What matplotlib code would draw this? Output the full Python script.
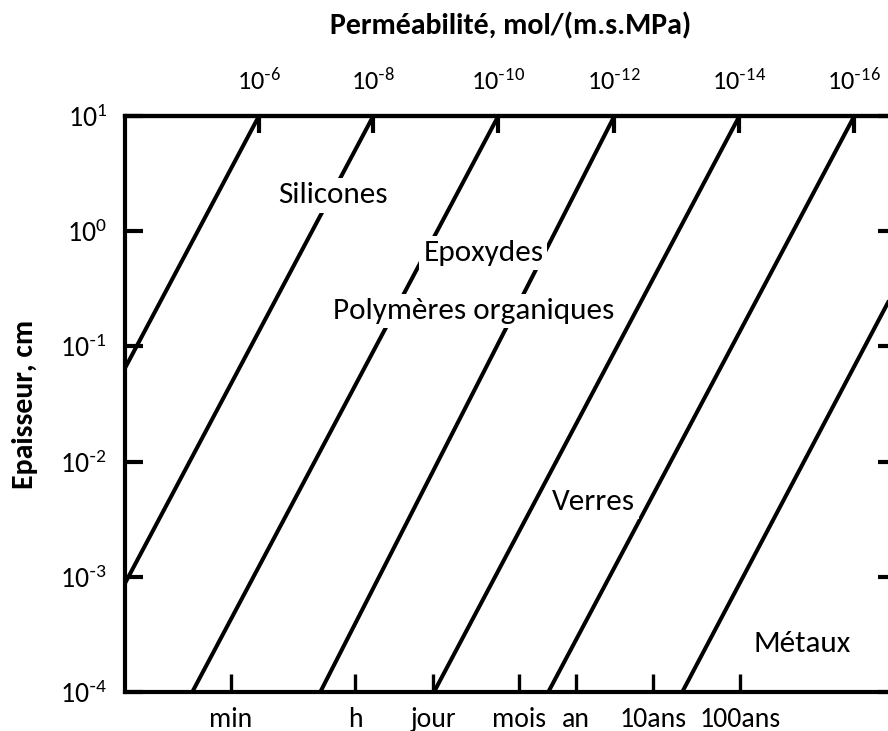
import matplotlib
matplotlib.use("Agg")
import matplotlib.pyplot as plt
import numpy as np

# ---------------- data ----------------
# Permeability exponents of the iso-permeability lines (mol/(m.s.MPa))
PERM_EXP = [-6, -8, -10, -12, -14, -16, -18]
# log10(time / s) where each line crosses the top (10 cm) and bottom (1e-4 cm)
LOGT_AT_TOP = [2.25, 4.17, 6.27, 8.22, 10.32, 12.25, 14.47]
LOGT_AT_BOTTOM = [-2.89, -0.97, 1.13, 3.28, 5.19, 7.11, 9.36]
THICK_TOP = 1e1
THICK_BOTTOM = 1e-4

# bottom time axis labels and their positions (log10 seconds)
TIME_LABELS = ["min", "h", "jour", "mois", "an", "10ans", "100ans"]
TIME_TICKS_LOG = [1.78, 3.87, 5.18, 6.62, 7.58, 8.87, 10.33]

# thickness ticks
Y_TICK_EXP = [1, 0, -1, -2, -3, -4]
X_LIM_LOG = (0.0, 12.95)

# material region labels: (text, log10 t, thickness)
REGION_LABELS = [
    ("Silicones", 3.49, 10 ** 0.31),
    ("Epoxydes", 6.02, 10 ** -0.19),
    ("Polymères organiques", 5.85, 10 ** -0.69),
    ("Verres", 7.86, 10 ** -2.35),
    ("Métaux", 11.38, 10 ** -3.58),
]

# ---------------- style ----------------
FONT = ["Carlito", "Lato", "DejaVu Sans"]
plt.rcParams["font.family"] = FONT
plt.rcParams["mathtext.fontset"] = "custom"
plt.rcParams["mathtext.rm"] = "Lato"
plt.rcParams["mathtext.it"] = "Lato:italic"
plt.rcParams["mathtext.bf"] = "Lato:bold"


def pow_label(e):
    if e < 0:
        return r"$\mathregular{10^{\text{-}%d}}$" % (-e)
    return r"$\mathregular{10^{%d}}$" % e


W, H = 888, 731
fig = plt.figure(figsize=(W / 100, H / 100), dpi=100)
ax = fig.add_axes([125 / W, (H - 692) / H, (896 - 125) / W, (692 - 116) / H])

LW = 2.9
for lt, lb in zip(LOGT_AT_TOP, LOGT_AT_BOTTOM):
    ax.plot([10 ** lb, 10 ** lt], [THICK_BOTTOM, THICK_TOP], color="black",
            lw=LW, solid_capstyle="butt", zorder=2)

ax.set_xscale("log")
ax.set_yscale("log")
ax.set_xlim(10 ** X_LIM_LOG[0], 10 ** X_LIM_LOG[1])
ax.set_ylim(THICK_BOTTOM, THICK_TOP)

for s in ax.spines.values():
    s.set_linewidth(3.0)

ax.minorticks_off()
ax.set_xticks([10 ** v for v in TIME_TICKS_LOG])
ax.set_xticklabels(TIME_LABELS)
ax.set_yticks([10.0 ** e for e in Y_TICK_EXP])
ax.set_yticklabels([pow_label(e) for e in Y_TICK_EXP])
ax.tick_params(axis="x", which="major", direction="in", length=13, width=2.4,
               labelsize=20, pad=11)
ax.tick_params(axis="y", which="major", direction="in", length=13, width=3.0,
               labelsize=20, pad=13, left=True, right=True)
ax.tick_params(which="minor", length=0)

top = ax.secondary_xaxis("top")
top.set_xticks([10 ** v for v in LOGT_AT_TOP[:6]])
top.set_xticklabels([pow_label(e) for e in PERM_EXP[:6]])
top.tick_params(direction="in", length=12, width=3.0, labelsize=19, pad=16)
top.minorticks_off()
top.spines["top"].set_linewidth(3.0)

top.set_xlabel("Perméabilité, mol/(m.s.MPa)", fontsize=21.5, fontweight="bold",
               labelpad=24)
ax.set_ylabel("Epaisseur, cm", fontsize=21.5, fontweight="bold", labelpad=16)

for txt, lt, th in REGION_LABELS:
    ax.text(10 ** lt, th, txt, ha="center", va="center", fontsize=22.5,
            zorder=3,
            bbox=dict(facecolor="white", edgecolor="none", pad=3))

fig.savefig("out.png", dpi=100)
